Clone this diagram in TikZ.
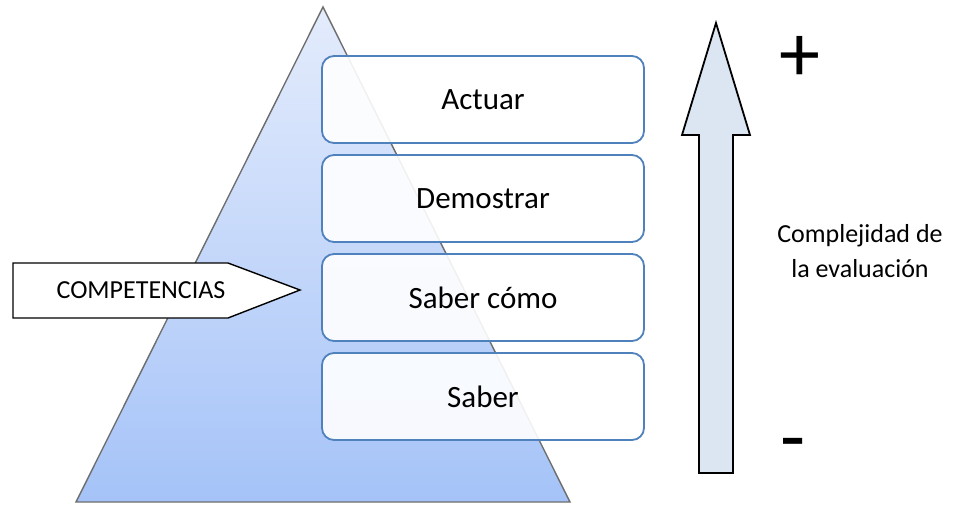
\documentclass[tikz,border=0pt]{standalone}
\usepackage{fontspec}
\setmainfont{Carlito}
\definecolor{boxblue}{HTML}{4F81BD}
\definecolor{pyrtop}{HTML}{E4ECFC}
\definecolor{pyrbot}{HTML}{A5C3F8}
\definecolor{pyredge}{HTML}{6E6E6E}
\definecolor{arrowfill}{HTML}{DCE6F2}
\tikzset{
  level/.style={draw=boxblue, line width=1.8pt, fill=white, fill opacity=0.9,
    text opacity=1, rounded corners=12pt, minimum width=322pt,
    minimum height=87pt, font=\fontsize{31}{37}\selectfont, anchor=center},
  sidetext/.style={font=\fontsize{26}{35}\selectfont, align=center},
  signtext/.style={font=\fontsize{82}{90}\selectfont, inner sep=0pt}
}
\begin{document}
\begin{tikzpicture}[x=1pt,y=-1pt]
\useasboundingbox (0,0) rectangle (954,504);

% pyramid
\shade[top color=pyrtop, bottom color=pyrbot, draw=pyredge, line width=1.4pt]
  (323,7) -- (570,502) -- (76,502) -- cycle;

% levels
\node[level] (actuar) at (483,99.5) {Actuar};
\node[level] (demostrar) at (483,198.5) {Demostrar};
\node[level] (sabercomo) at (483,297.5) {Saber cómo};
\node[level] (saber) at (483,396.5) {Saber};

% pointer to the competence level
\draw[fill=white, line width=1.4pt, line join=miter]
  (13,263) -- (228,263) -- (300,290) -- (228,318) -- (13,318) -- cycle;
\node[font=\fontsize{26}{30}\selectfont] (comp) at (141,290.5) {COMPETENCIAS};

% complexity arrow
\draw[fill=arrowfill, line width=1.8pt, line join=miter]
  (716,23) -- (750,135) -- (733,135) -- (733,473) -- (699,473)
  -- (699,135) -- (682,135) -- cycle;

\node[signtext] (plus) at (800,59) {+};
\node[signtext] (minus) at (793,451) {-};
\node[sidetext] (compl) at (860,251) {Complejidad de\\la evaluación};
\end{tikzpicture}
\end{document}
